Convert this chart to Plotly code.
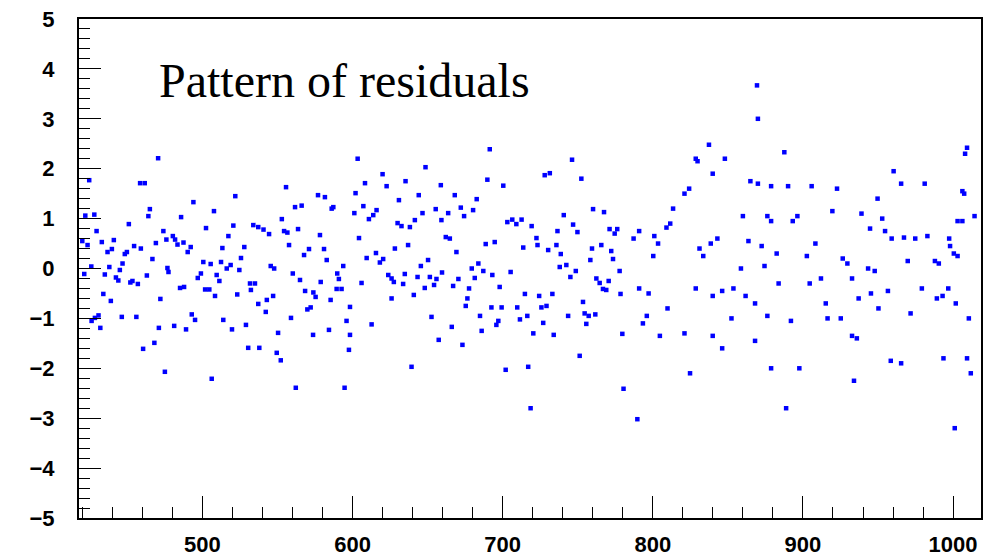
import plotly.graph_objects as go

# Residuals versus wavelength, read segment by segment
wavelength = [
    470.5, 424.6, 458.5, 461.6, 465.0, 464.0, 422.0, 428.0, 451.0, 429.5, 474.0, 420.0, 423.5,
    433.0, 441.0, 469.0, 476.0, 454.5, 459.0, 439.7, 436.8, 449.7, 448.3, 466.7, 446.8, 445.0,
    476.7, 477.4, 426.0, 438.0, 421.3, 435.0, 442.4, 444.0, 453.4, 452.0, 457.0, 463.0, 472.0,
    434.0, 439.0, 430.8, 428.4, 426.2, 446.3, 456.0, 432.0, 471.0, 468.0, 460.5, 475.0,
    521.9, 494.0, 507.7, 485.8, 502.4, 520.6, 533.9, 537.2, 517.3, 480.3, 481.8, 483.4, 487.4,
    492.2, 490.2, 513.3, 527.9, 525.7, 500.6, 505.5, 512.4, 518.8, 516.2, 524.6, 499.0,
    496.9, 509.5, 511.3, 531.7, 535.0, 532.3, 485.1, 487.8, 501.8, 504.6, 508.4, 523.2, 537.2,
    492.9, 495.1, 513.9, 481.2, 489.1, 529.0, 519.7, 530.5, 537.9, 506.2,
    555.7, 577.0, 581.6, 561.7, 566.1, 587.2, 586.1, 552.9, 540.7, 544.4, 554.4, 556.6,
    563.7, 578.3, 557.7, 571.0, 567.7, 581.0, 582.8, 593.8, 545.5, 547.8, 560.2, 565.0, 578.8,
    589.8, 590.9, 589.4, 592.7, 568.4, 573.9, 575.4, 585.4, 547.1, 542.9, 542.2, 569.9,
    572.1, 598.3, 559.0, 596.0, 584.3, 550.4, 573.7, 598.3, 597.6, 549.5, 552.2, 562.2,
    594.7,
    603.4, 648.6, 620.0, 635.3, 622.7, 608.3, 658.8, 602.0, 644.1, 630.9, 607.2, 601.2, 610.9,
    613.8, 616.0, 655.4, 646.6, 641.5, 630.0, 632.6, 638.2, 659.2, 604.3, 628.2, 637.0, 615.6,
    609.4, 620.4, 618.2, 650.3, 645.5, 623.8, 626.0, 627.5, 634.8, 633.7, 643.3, 651.5, 655.9,
    654.3, 659.6, 606.0, 648.1, 640.8, 626.0, 652.6, 612.7, 657.4, 639.3,
    691.4, 689.8, 700.4, 668.1, 682.7, 672.1, 680.3, 663.7, 674.3, 703.1, 706.4, 709.1, 712.6,
    719.3, 662.1, 664.8, 669.2, 688.7, 694.7, 713.7, 683.8, 679.4, 687.1, 693.1, 705.3, 681.4,
    670.5, 667.0, 677.6, 698.0, 714.8, 676.5, 675.4, 692.5, 699.3, 709.7, 684.9, 716.4, 711.5,
    697.1, 695.8, 720.4, 666.1, 686.0, 673.2, 702.0, 717.0, 718.6,
    746.2, 728.0, 731.4, 752.4, 760.2, 767.5, 740.7, 746.9, 736.5, 749.8, 771.2, 776.3, 774.6,
    722.5, 723.2, 735.8, 765.7, 759.5, 730.3, 772.3, 738.7, 758.4, 773.5, 742.4, 738.0, 748.7,
    777.9, 745.1, 762.4, 764.6, 770.6, 766.8, 769.0, 778.5, 724.3, 733.1, 725.8, 729.2, 753.5,
    754.6, 757.3, 761.7, 743.6, 755.7, 727.0, 734.0, 779.7, 751.3, 780.5,
    789.7, 787.2, 790.9, 801.0, 803.5, 809.1, 811.6, 790.9, 797.2, 809.8, 793.4, 796.0, 804.7,
    800.3, 813.5, 821.1, 824.2, 828.6, 829.8, 837.4, 839.9, 848.0, 831.1, 833.6, 838.6, 843.0,
    828.6, 839.9, 846.2, 821.1, 839.9, 846.2, 824.8, 852.4, 869.4, 870.0, 865.0, 870.0, 860.0,
    876.3, 878.8, 863.7, 872.5, 858.7, 874.4, 853.7, 861.8, 868.1, 868.1, 878.8, 878.8, 876.3,
    887.6, 890.1, 888.8, 897.6, 896.3, 893.2, 882.5, 902.6, 883.8, 904.5, 892.0, 905.8, 908.3,
    922.7, 919.6, 915.2, 916.4, 925.2, 934.0, 939.0, 926.5, 929.6, 912.0, 932.7, 937.1, 935.9,
    932.7, 949.7, 944.7, 954.7, 943.4, 947.8, 945.3, 956.6, 950.3, 958.5, 965.4, 960.4, 965.4,
    959.1, 967.3, 952.8, 971.7, 969.8, 1008.0, 1009.3, 1007.4, 1006.2, 1014.3, 1006.2, 1001.1,
    993.6, 1009.3, 1011.8, 1010.5, 1001.8, 989.2, 993.0, 990.5, 987.9, 974.8, 982.9, 979.2,
    996.8, 997.4, 998.0, 1000.5, 1003.0, 1003.0, 981.1,
]

residual = [
    2.21, 1.77, 1.71, 1.71, 1.19, 1.05, 1.06, 1.08, 0.89, 0.75, 0.75, 0.55, 0.47,
    0.53, 0.57, 0.51, 0.58, 0.45, 0.40, 0.39, 0.33, 0.33, 0.29, 0.19, 0.10, -0.03,
    0.01, -0.07, 0.04, 0.03, -0.11, -0.12, -0.18, -0.24, -0.25, -0.28, -0.31, -0.14, -0.61,
    -0.51, -0.65, -0.94, -0.99, -1.05, -0.97, -0.97, -1.19, -1.19, -1.49, -1.61, -2.07,
    1.45, 1.33, 1.15, 1.03, 0.81, 0.86, 0.87, 0.83, 0.65, 0.65, 0.58, 0.48, 0.52,
    0.43, 0.33, 0.41, 0.43, 0.21, 0.13, 0.09, 0.13, 0.07, 0.00, -0.03, -0.10,
    -0.19, -0.13, -0.25, -0.30, -0.30, -0.43, -0.39, -0.37, -0.42, -0.42, -0.55, -0.52, -0.71,
    -0.92, -1.03, -1.03, -1.15, -1.22, -1.13, -1.22, -1.59, -1.59, -2.21,
    1.63, 1.47, 1.43, 1.23, 1.26, 1.23, 1.20, 0.99, 0.78, 0.69, 0.75, 0.72,
    0.79, 0.67, 0.47, 0.39, 0.27, 0.39, 0.17, 0.05, 0.05, 0.00, -0.10, -0.23, -0.27,
    -0.10, -0.21, -0.41, -0.41, -0.45, -0.48, -0.57, -0.63, -0.55, -0.63, -0.87, -0.82,
    -0.78, -0.77, -0.99, -1.05, -1.23, -1.29, -1.33, -1.33, -1.63, -1.69, -1.84, -2.39,
    -2.39,
    2.20, 2.03, 1.89, 1.75, 1.65, 1.71, 1.67, 1.51, 1.47, 1.37, 1.25, 1.11, 0.99,
    1.07, 1.17, 1.19, 1.11, 0.97, 0.91, 0.85, 0.83, 0.97, 0.61, 0.40, 0.47, 0.31,
    0.21, 0.19, 0.12, 0.17, 0.05, -0.13, -0.20, -0.27, -0.11, -0.31, -0.17, -0.17, -0.21,
    -0.33, -0.08, -0.29, -0.39, -0.53, -0.60, -0.97, -1.12, -1.43, -1.97,
    2.39, 1.78, 1.66, 1.47, 1.39, 1.22, 1.17, 1.11, 1.05, 0.93, 0.98, 0.89, 0.98,
    0.85, 0.63, 0.60, 0.33, 0.49, 0.53, 0.42, 0.10, 0.00, -0.05, -0.13, -0.07, -0.19,
    -0.21, -0.35, -0.40, -0.37, -0.51, -0.60, -0.75, -0.78, -0.78, -0.78, -0.95, -0.95, -1.02,
    -1.05, -1.13, -1.30, -1.17, -1.25, -1.53, -2.03, -1.97, -2.80,
    2.18, 1.87, 1.91, 1.80, 1.19, 1.13, 1.07, 0.88, 0.75, 0.73, 0.79, 0.79, 0.70,
    0.61, 0.47, 0.47, 0.47, 0.40, 0.37, 0.35, 0.29, 0.17, 0.19, 0.07, 0.03, -0.05,
    -0.05, -0.17, -0.20, -0.29, -0.25, -0.41, -0.43, -0.51, -0.55, -0.51, -0.78, -0.75, -0.67,
    -0.90, -0.95, -0.92, -0.95, -1.11, -1.09, -1.33, -1.31, -1.75, -2.41,
    -3.02, 0.60, 0.75, 0.65, 0.50, 0.82, 0.90, -0.40, -0.50, -0.80, -1.10, -0.95, -1.35,
    0.25, 1.20, 1.50, 1.60, 2.20, 2.15, 2.48, 1.90, 2.20, 0.40, 0.25, 0.50, 0.60,
    -0.40, -0.55, -0.45, -1.30, -1.35, -1.60, -2.10, -1.00, 3.67, 3.00, 1.75, 1.70, 1.05,
    1.05, 0.95, 0.55, 0.45, 0.00, 0.05, -0.40, -0.55, -0.70, -1.45, -2.00, 1.65, -0.95,
    2.33, 1.65, -2.80, -2.00, 1.05, 0.95, 0.30, 0.25, -0.30, -0.30, -1.05, 1.65, 0.50,
    1.60, 1.15, -0.70, -1.00, -1.00, -2.25, 1.10, 0.20, 0.10, -0.20, -0.20, -0.60, -1.40,
    -1.35, 1.40, 0.80, 0.75, 0.00, -0.05, -0.50, -0.45, -0.80, -1.85, -1.90, 1.95, 1.70,
    0.60, 0.62, 1.00, -0.90, 0.15, 2.30, 2.42, 1.50, 1.55, 1.05, 0.95, -3.20,
    -1.80, -1.80, -2.10, -1.00, -0.70, -0.60, -0.55, 0.10, 0.15, 0.60, 0.65, -0.40,
    -0.40, 0.60, 0.45, 0.30, 0.25, 0.95, 1.70,
]

x_ticks = [500, 600, 700, 800, 900, 1000]
y_ticks = [-5, -4, -3, -2, -1, 0, 1, 2, 3, 4, 5]
title_text = "Pattern of residuals"

fig = go.Figure(
    go.Scatter(
        x=wavelength,
        y=residual,
        mode="markers",
        marker=dict(symbol="square", size=4.5, color="#0000ff", line=dict(width=0)),
        hoverinfo="skip",
    )
)

tick_font = dict(family="Liberation Sans", size=22, color="black", weight="bold")

fig.update_layout(
    width=984,
    height=558,
    margin=dict(l=79, r=1, t=19, b=38),
    paper_bgcolor="white",
    plot_bgcolor="white",
    showlegend=False,
    xaxis=dict(
        range=[417.8, 1018.6],
        tickvals=x_ticks,
        ticks="inside",
        ticklen=22,
        tickwidth=1,
        tickcolor="black",
        showline=True,
        linewidth=2,
        linecolor="black",
        mirror=True,
        showgrid=False,
        zeroline=False,
        tickfont=tick_font,
        ticklabelstandoff=6,
        minor=dict(dtick=20, tick0=400, ticks="inside", ticklen=11, tickwidth=1,
                   tickcolor="black", showgrid=False),
    ),
    yaxis=dict(
        range=[-5, 5],
        tickvals=y_ticks,
        ticktext=[str(v).replace("-", "\u2212") for v in y_ticks],
        ticks="inside",
        ticklen=22,
        tickwidth=1,
        tickcolor="black",
        showline=True,
        linewidth=2,
        linecolor="black",
        mirror=True,
        showgrid=False,
        zeroline=False,
        tickfont=tick_font,
        ticklabelstandoff=18,
        minor=dict(dtick=0.2, tick0=0, ticks="inside", ticklen=11, tickwidth=1,
                   tickcolor="black", showgrid=False),
    ),
    annotations=[
        dict(
            text=title_text,
            xref="paper", yref="paper",
            x=0.0863, y=0.876,
            xanchor="left", yanchor="middle",
            showarrow=False,
            font=dict(family="Liberation Serif", size=48, color="black"),
        )
    ],
)

fig.write_html("out.html")
